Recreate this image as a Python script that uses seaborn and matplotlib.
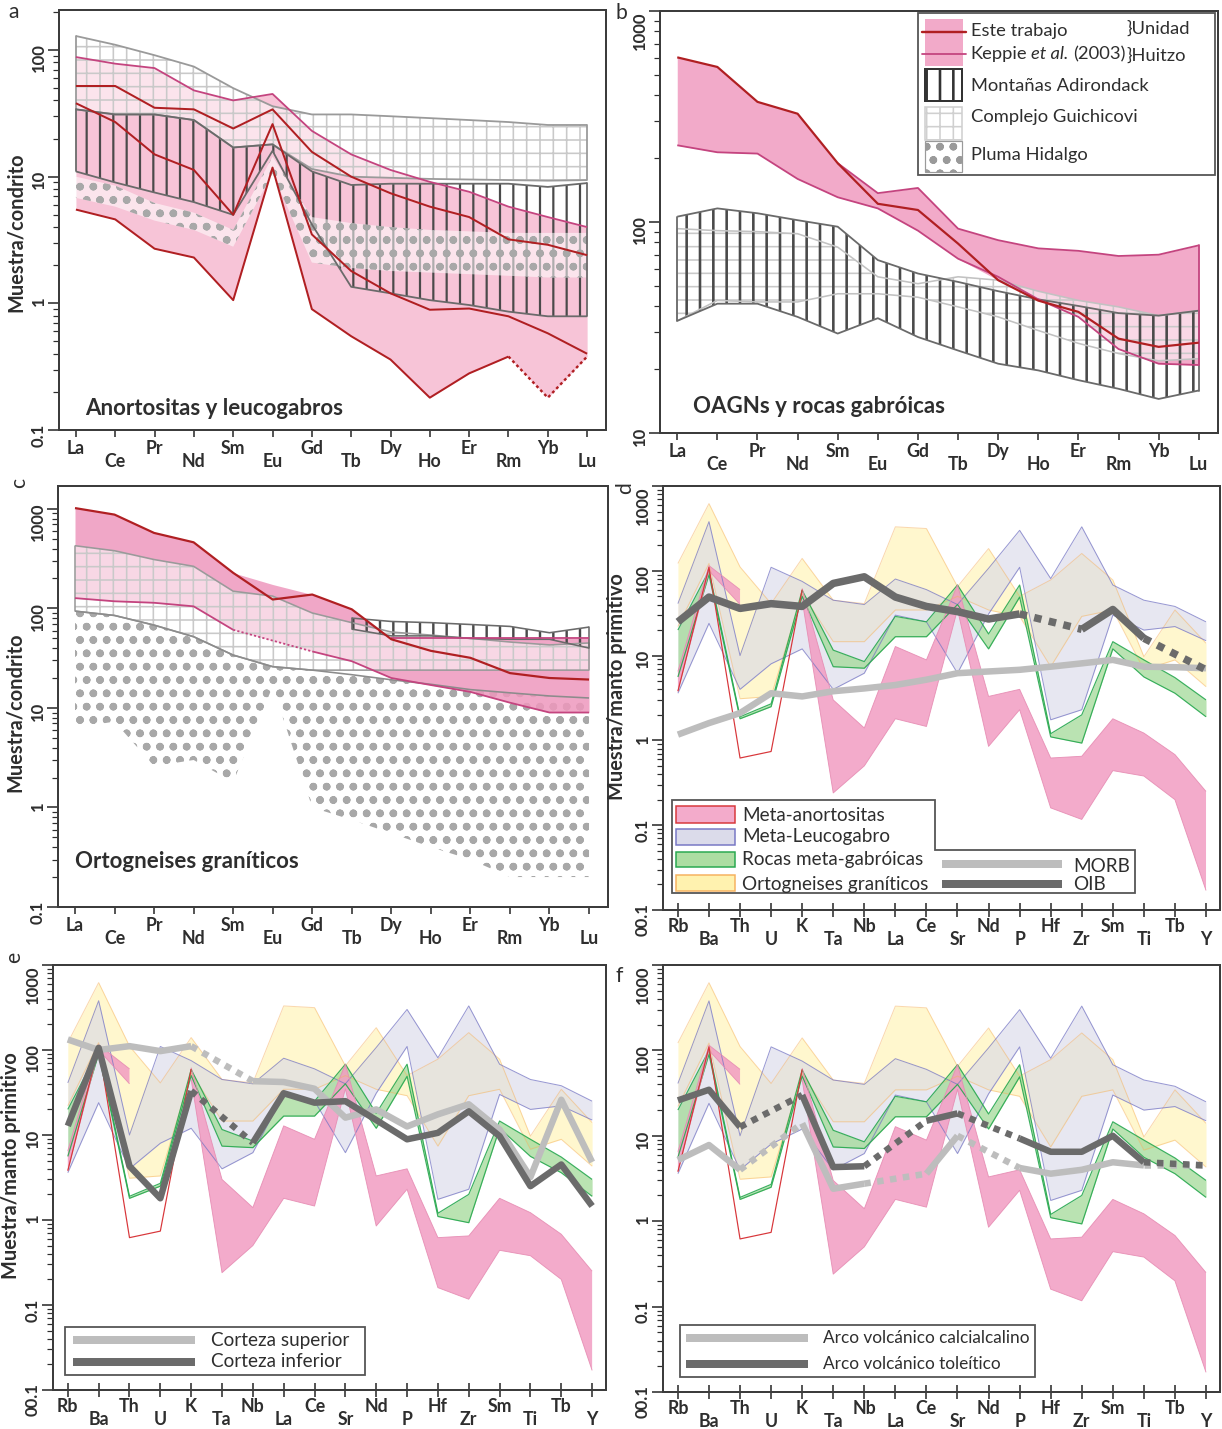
import numpy as np
import matplotlib
matplotlib.use("Agg")
import matplotlib.pyplot as plt
import seaborn as sns
from matplotlib.patches import Rectangle, Polygon
from matplotlib.ticker import LogLocator, NullFormatter

nan = np.nan

# ---------------- element sequences ----------------
ree = ["La", "Ce", "Pr", "Nd", "Sm", "Eu", "Gd", "Tb", "Dy", "Ho", "Er", "Rm", "Yb", "Lu"]
spider = ["Rb", "Ba", "Th", "U", "K", "Ta", "Nb", "La", "Ce", "Sr", "Nd", "P",
          "Hf", "Zr", "Sm", "Ti", "Tb", "Y"]

# ---------------- (a) anortositas y leucogabros ----------------
a_huitzo_1 = [52, 52, 35, 34, 24, 34, 15.7, 10, 7.4, 5.8, 4.8, 3.2, 2.9, 2.4]
a_huitzo_2 = [38, 27, 15, 11.3, 5.0, 26, 3.5, 1.8, 1.2, 0.89, 0.91, 0.79, 0.58, 0.40]
a_huitzo_3 = [5.5, 4.6, 2.7, 2.3, 1.06, 11.8, 0.9, 0.55, 0.36, 0.18, 0.28, 0.38, 0.18, 0.38]
a_keppie = [88, 78, 72, 48, 40, 45, 23, 15, 11.3, 9.1, 7.6, 5.8, 4.8, 4.0]
a_adk_top = [34, 31, 31, 28, 17, 18, 11, 8.6, 8.8, 8.8, 8.8, 8.8, 8.3, 8.9]
a_adk_bot = [11, 9.0, 7.5, 6.3, 5.0, 16, 4.2, 1.35, 1.2, 1.06, 0.97, 0.86, 0.79, 0.79]
a_gui_top = [129, 110, 91, 74, 50, 36, 31, 31, 30, 29, 28, 27, 25.6, 25.6]
a_gui_bot = [34, 31, 31, 28, 17, 18, 11.5, 10, 9.8, 9.6, 9.5, 9.4, 9.3, 9.4]
a_plh_top = [10, 8.5, 6.2, 5.2, 3.8, 14.4, 4.8, 4.3, 4.0, 3.8, 3.7, 3.6, 3.6, 3.6]
a_plh_bot = [6.8, 5.8, 4.5, 3.8, 2.8, 10.6, 2.1, 1.9, 1.8, 1.75, 1.7, 1.65, 1.6, 1.6]

# ---------------- (b) OAGNs y rocas gabroicas ----------------
b_huitzo = [603, 543, 371, 326, 190, 122, 114, 79, 53, 42.4, 37.5, 28, 25.6, 26.8]
b_kep_up = [nan, nan, nan, nan, 190, 137, 145, 93, 82, 75, 73, 69, 70, 77.5]
b_kep_low = [231, 214, 211, 160, 131, 116, 91, 67, 55, 43, 35.5, 25, 21.3, 21]
b_adk_top = [106, 116, 110, 102, 95, 66, 57, 52, 47, 43, 40, 37, 36, 38]
b_adk_bot = [34, 41, 41, 35.5, 29.6, 35, 28.5, 24.6, 21.3, 19.8, 17.8, 16.2, 14.5, 15.9]
b_gui_top = [93, 91, 90, 88, 76, 55, 51, 55, 53, 47, 42.5, 39.6, 36, 38]
b_gui_bot = [34, 42.5, 41.8, 41.8, 45.7, 45.7, 44, 39.6, 35.5, 30.6, 26.6, 23.8, 22, 22.5]

# ---------------- (c) ortogneises graniticos ----------------
c_huitzo = [1020, 877, 574, 462, 228, 123, 138, 98, 49, 37.5, 31.9, 22.4, 20, 19.3]
c_kep_up = [nan, nan, nan, nan, nan, 174, nan, nan, 50, 50, 50, 50, 50, 50]
c_kep_low = [127, 118, 114, 105, 61, nan, 37, 29.5, 20, 17, 14.5, 11.3, 9.0, 9.0]
c_gui_top = [427, 380, 310, 265, 149, 133, 90, 72, 58, 54, 50, 46, 43, 45]
c_gui_bot = [94, 85, 68, 52, 34, 26, 24, 24, 24, 24, 24, 24, 24, 24]
c_plh_top = [94, 85, 68, 52, 34, 26, 24, 21.6, 19.2, 17.3, 15.3, 14.2, 13.2, 12.6]
c_plh_bot = [6.3, 7.3, 2.6, 3.0, 1.8, 16.5, 1.0, 0.75, 0.55, 0.4, 0.3, 0.2, 0.2, 0.2]
c_adk_top = [nan, nan, nan, nan, nan, nan, nan, 80, 74, 72, 69, 66, 57, 65]
c_adk_bot = [nan, nan, nan, nan, nan, nan, nan, 62, 53, 53, 50, 49, 49, 40]

# ---------------- (d-f) fields normalised to primitive mantle ----------------
orto_hi = [122, 620, 111, 41, 140, 45, 41, 330, 315, 65, 183, 50, 78, 160, 78, 9.7, 34.5, 14]
orto_lo = [22, 122, 3.1, 3.3, 54, 14.6, 14.6, 34.5, 34.5, 50, 34.5, 29, 7.4, 29, 34.5, 6.8, 8.9, 4.3]
leuco_hi = [41, 380, 10, 110, 75, 45, 40, 80, 60, 40, 107, 300, 81, 330, 68, 45, 38, 25]
leuco_lo = [3.6, 24, 4.0, 8, 12, 4.0, 6.2, 30, 25, 6.2, 31, 110, 1.75, 2.3, 30, 20, 22, 15]
gabro_hi = [20, 100, 1.9, 2.7, 59, 11.6, 8.5, 29, 25, 68, 18, 68, 1.2, 2.0, 14.6, 8.9, 5.5, 3.0]
gabro_lo = [5.6, 90, 1.8, 2.5, 50, 7.4, 7.1, 16.7, 16.7, 40, 12, 49, 1.1, 0.93, 12, 5.6, 3.6, 1.9]
anort_hi = [6.5, 115, 60, nan, 62, 3.0, 1.4, 12.8, 8.9, 68, 3.3, 4.0, 0.62, 0.65, 1.8, 1.22, 0.68, 0.25]
anort_lo = [3.8, 100, 40, nan, 45, 0.24, 0.5, 1.8, 1.46, 35, 0.85, 2.3, 0.16, 0.117, 0.44, 0.38, 0.2, 0.017]
anort_edge = [3.8, 110, 0.62, 0.74, 60, nan, nan, nan, nan, nan, nan, nan, nan, nan, nan, nan, nan, nan]

morb = [1.17, 1.6, 2.1, 3.6, 3.3, 3.8, 4.1, 4.5, 5.2, 6.2, 6.5, 6.8, 7.4, 8.1, 8.9, 7.4, 7.3, 7.1]
oib = [25, 49, 36, 41, 38, 71, 85, 49, 38, 33, 27, 31, nan, 20.4, 35, 16, nan, 6.8]
corteza_sup = [133, 100, 111, 97, 111, nan, 43, 42, 35, 16, 20, 12.6, 17.5, 23, 11.6, 3.2, 26, 4.8]
corteza_inf = [12.8, 106, 4.3, 1.8, 33, nan, 8.1, 31, 24, 25, 15, 8.9, 10.6, 19, 9.7, 2.5, 4.5, 1.46]
arco_calc = [5.2, 7.8, 4.0, nan, 14, 2.4, 2.75, nan, 3.6, 10, nan, 4.2, 3.6, 4.0, 4.9, 4.5, nan, 4.5]
arco_tol = [26, 34.6, 12.7, nan, 30, 4.3, 4.4, nan, 15, 18.3, nan, 9.3, 6.5, 6.5, 10, 4.9, nan, 4.5]

# ---------------- styling ----------------
DPI = 80
W, H = 1222, 1429


def px(v):
    """pixels -> points at the output resolution"""
    return v * 72.0 / DPI


RED = "#b01f22"
MAGENTA = "#c4447f"
PINK_A = "#f7c4d7"
PINK_B = "#f2aac9"
PINK_C = "#ee98bd"
ADK_H = "#4a4a4a"
ADK_EDGE = "#6a6a6a"
GUI_H = "#c9c9c9"
GUI_EDGE = "#9a9a9a"
PLH_H = "#a8a8a8"
YEL_FACE, YEL_EDGE = "#fff1a6", "#f6b15e"
LAV_FACE, LAV_EDGE = "#d8d8e8", "#7676c4"
GRN_FACE, GRN_EDGE = "#a3da98", "#27a84f"
PNK_FACE, PNK_EDGE = "#f29cc2", "#e68cb3"
ANR_EDGE = "#d8363a"
LIGHT = "#bdbdbd"
DARK = "#6b6b6b"
TXT = "#2e2e2e"
DOT_GAP = (0, (1.0, 1.0))

sns.set_theme(style="ticks")
plt.rcParams["font.family"] = ["Lato", "DejaVu Sans"]
plt.rcParams["axes.edgecolor"] = "#3c3c3c"
plt.rcParams["axes.linewidth"] = px(2)
plt.rcParams["hatch.linewidth"] = px(2.2)

fig = plt.figure(figsize=(W / DPI, H / DPI), dpi=DPI)


def add_axes(l, t, r, b):
    return fig.add_axes([l / W, 1 - b / H, (r - l) / W, (b - t) / H])


ax_a = add_axes(59, 10, 606, 430)
ax_b = add_axes(660, 11, 1218, 433)
ax_c = add_axes(58, 486, 608, 907)
ax_d = add_axes(663, 486, 1220, 910)
ax_e = add_axes(53, 965, 606, 1390)
ax_f = add_axes(663, 965, 1220, 1392)

TICKLAB = {0.01: "00.1", 0.1: "0.1", 1: "1", 10: "10", 100: "100", 1000: "1000"}


def style_axes(ax, names, ylim, yticks, cross):
    n = len(names)
    ax.set_yscale("log")
    ax.set_ylim(*ylim)
    if n == 14:
        ax.set_xlim(-0.43, n - 1 + 0.48)
    else:
        ax.set_xlim(-0.48, n - 1 + 0.45)
    ax.set_yticks(yticks, labels=[TICKLAB[v] for v in yticks])
    ax.yaxis.set_minor_locator(LogLocator(base=10, subs=np.arange(2, 10)))
    ax.yaxis.set_minor_formatter(NullFormatter())
    ev = list(range(0, n, 2))
    od = list(range(1, n, 2))
    ax.set_xticks(ev, labels=[names[i] for i in ev])
    ax.set_xticks(od, labels=[names[i] for i in od], minor=True)
    ax.tick_params(axis="y", which="major", length=px(11), width=px(1.6), pad=px(1),
                   labelsize=15, labelrotation=90, colors=TXT)
    ax.tick_params(axis="y", which="minor", length=px(6), width=px(1.2), colors=TXT)
    if cross:
        ax.tick_params(axis="x", which="both", direction="inout", length=px(14),
                       width=px(1.6), labelsize=16, colors=TXT)
        ax.tick_params(axis="x", which="major", pad=px(1))
        ax.tick_params(axis="x", which="minor", pad=px(14))
    else:
        ax.tick_params(axis="x", which="both", direction="out", length=px(7),
                       width=px(1.6), labelsize=16, colors=TXT)
        ax.tick_params(axis="x", which="major", pad=px(3))
        ax.tick_params(axis="x", which="minor", pad=px(16))
    for lbl in ax.get_xticklabels(which="both") + ax.get_yticklabels():
        lbl.set_fontweight("bold")
    top = ax.get_yticklabels()[-1]
    if max(yticks) >= ylim[1] * 0.999:
        top.set_va("top")


def band(ax, x, lo, hi, face, alpha=1.0, z=1):
    return ax.fill_between(x, lo, hi, color=face, alpha=alpha, linewidth=0, zorder=z)


def hatched(ax, x, lo, hi, hatch, hcolor, hlw, face="none", z=2):
    with plt.rc_context({"hatch.linewidth": hlw}):
        coll = ax.fill_between(x, lo, hi, facecolor=face, edgecolor=hcolor, hatch=hatch,
                               linewidth=0, zorder=z)
    if hasattr(coll, "set_hatch_linewidth"):
        coll.set_hatch_linewidth(hlw)
    return coll


def draw_line(ax, x, y, color, lw, gap=None, z=6, alpha=1.0):
    x = np.asarray(x, dtype=float)
    y = np.asarray(y, dtype=float)
    idx = np.flatnonzero(~np.isnan(y))
    if idx.size == 0:
        return
    runs = np.split(idx, np.flatnonzero(np.diff(idx) > 1) + 1)
    for r in runs:
        if r.size > 1:
            sns.lineplot(x=x[r], y=y[r], ax=ax, color=color, linewidth=lw, sort=False,
                         estimator=None, legend=False, zorder=z, alpha=alpha,
                         solid_joinstyle="round", solid_capstyle="butt")
    if gap is not None:
        for r1, r2 in zip(runs[:-1], runs[1:]):
            j = [r1[-1], r2[0]]
            ax.plot(x[j], y[j], color=color, linewidth=lw, linestyle=gap,
                    dash_capstyle="butt", zorder=z, alpha=alpha)


def outline(ax, x, lo, hi, color, lw, z=5):
    lo = np.asarray(lo, float)
    hi = np.asarray(hi, float)
    draw_line(ax, x, hi, color, lw, z=z)
    draw_line(ax, x, lo, color, lw, z=z)
    ok = np.flatnonzero(~np.isnan(lo))
    for j in (ok[0], ok[-1]):
        ax.plot([x[j], x[j]], [lo[j], hi[j]], color=color, linewidth=lw, zorder=z)


x14 = np.arange(len(ree))
x18 = np.arange(len(spider))

# ======================= (a) =======================
ax = ax_a
style_axes(ax, ree, (0.1, 207), [0.1, 1, 10, 100], cross=False)
band(ax, x14, a_huitzo_3, a_keppie, PINK_A, z=1)
hatched(ax, x14, a_gui_bot, a_gui_top, "+", GUI_H, px(1.6), face=(1, 1, 1, 0.55), z=2)
hatched(ax, x14, a_adk_bot, a_adk_top, "|", ADK_H, px(2.2), z=3)
hatched(ax, x14, a_plh_bot, a_plh_top, "o.", PLH_H, px(2.4), face=(1, 1, 1, 0.55), z=4)
outline(ax, x14, a_gui_bot, a_gui_top, GUI_EDGE, px(1.8))
outline(ax, x14, a_adk_bot, a_adk_top, ADK_EDGE, px(1.8))
draw_line(ax, x14, a_keppie, MAGENTA, px(1.8), z=7)
draw_line(ax, x14, a_huitzo_1, RED, px(2), z=7)
draw_line(ax, x14, a_huitzo_2, RED, px(2), z=7)
draw_line(ax, x14[:12], a_huitzo_3[:12], RED, px(2), z=7)
ax.plot(x14[11:], a_huitzo_3[11:], color=RED, linewidth=px(2.4), linestyle=(0, (1.2, 1.2)), zorder=7)
ax.set_ylabel("Muestra/condrito", fontsize=18, fontweight="bold", color=TXT)
ax.yaxis.set_label_coords(-0.060, 0.47)
ax.text(0.0475, 0.036, "Anortositas y leucogabros", transform=ax.transAxes, fontsize=20,
        fontweight="bold", color=TXT, va="baseline")

# ======================= (b) =======================
ax = ax_b
style_axes(ax, ree, (10, 1000), [10, 100, 1000], cross=False)
b_top = np.fmax(np.array(b_huitzo, float), np.array(b_kep_up, float))
b_bot = np.fmin(np.array(b_huitzo, float), np.array(b_kep_low, float))
band(ax, x14, b_bot, b_top, PINK_B, z=1)
hatched(ax, x14, b_gui_bot, b_gui_top, "+", GUI_H, px(1.6), face=(1, 1, 1, 0.55), z=2)
hatched(ax, x14, b_adk_bot, b_adk_top, "|", ADK_H, px(2.6), z=3)
outline(ax, x14, b_gui_bot, b_gui_top, "#c2c2c2", px(1.6))
outline(ax, x14, b_adk_bot, b_adk_top, ADK_EDGE, px(1.8))
draw_line(ax, x14, b_kep_up, MAGENTA, px(1.8), z=7)
draw_line(ax, x14, b_kep_low, MAGENTA, px(1.8), z=7)
ax.plot([x14[-1], x14[-1]], [b_kep_low[-1], b_kep_up[-1]], color=MAGENTA, linewidth=px(1.8), zorder=7)
draw_line(ax, x14, b_huitzo, RED, px(2.2), z=8)
ax.text(0.059, 0.047, "OAGNs y rocas gabróicas", transform=ax.transAxes, fontsize=20,
        fontweight="bold", color=TXT, va="baseline")

# legend of (b)
T = ax.transAxes
ax.add_patch(Rectangle((0.462, 0.611), 0.533, 0.384, transform=T, facecolor="white",
                       edgecolor="#555555", linewidth=px(1.8), zorder=20))
ax.add_patch(Rectangle((0.475, 0.870), 0.068, 0.111, transform=T, facecolor=PINK_B,
                       edgecolor="none", zorder=21))
ax.plot([0.470, 0.548], [0.950, 0.950], transform=T, color=RED, linewidth=px(2.4), zorder=22)
ax.plot([0.470, 0.548], [0.898, 0.898], transform=T, color=MAGENTA, linewidth=px(1.8), zorder=22)
with plt.rc_context({"hatch.linewidth": px(2.6)}):
    sw = Rectangle((0.475, 0.787), 0.066, 0.076, transform=T, facecolor="white",
                   edgecolor="#333333", hatch="|", linewidth=px(2), zorder=21)
ax.add_patch(sw)
with plt.rc_context({"hatch.linewidth": px(1.6)}):
    sw = Rectangle((0.475, 0.694), 0.066, 0.079, transform=T, facecolor="white",
                   edgecolor="#d0d0d0", hatch="+", linewidth=px(1.6), zorder=21)
ax.add_patch(sw)
with plt.rc_context({"hatch.linewidth": px(2.4)}):
    sw = Rectangle((0.475, 0.618), 0.066, 0.074, transform=T, facecolor="white",
                   edgecolor="#9a9a9a", hatch="o.", linewidth=px(1.2), zorder=21)
ax.add_patch(sw)
LEG = dict(transform=T, fontsize=16.5, va="center", ha="left", color=TXT, zorder=23)
ax.text(0.557, 0.953, "Este trabajo", **LEG)
renderer = fig.canvas.get_renderer()
inv = T.inverted()
t1 = ax.text(0.557, 0.898, "Keppie", **LEG)
bb = t1.get_window_extent(renderer)
u = inv.transform((bb.x1 + 4, bb.y0))[0]
t2 = ax.text(u, 0.898, "et al.", style="italic", **LEG)
bb = t2.get_window_extent(renderer)
u = inv.transform((bb.x1 + 4, bb.y0))[0]
t3 = ax.text(u, 0.898, "(2003)", **LEG)
bb = t3.get_window_extent(renderer)
u_br = inv.transform((bb.x1 + 1, bb.y0))[0]
ax.text(u_br, 0.958, "}Unidad", **LEG)
ax.text(u_br, 0.893, "}Huitzo", **LEG)
ax.text(0.557, 0.822, "Montañas Adirondack", **LEG)
ax.text(0.557, 0.749, "Complejo Guichicovi", **LEG)
ax.text(0.557, 0.659, "Pluma Hidalgo", **LEG)

# ======================= (c) =======================
ax = ax_c
style_axes(ax, ree, (0.1, 1700), [0.1, 1, 10, 100, 1000], cross=False)
hatched(ax, x14, c_plh_bot, c_plh_top, "o.", PLH_H, px(2.4), face=(1, 1, 1, 1), z=1)
c_top = np.fmax(np.array(c_huitzo, float), np.array(c_kep_up, float))
c_bot = np.fmin(np.array(c_huitzo, float), np.array(c_kep_low, float))
c_bot = np.where(np.isnan(c_bot), c_huitzo, c_bot)
c_bot[5] = np.sqrt(c_kep_low[4] * c_kep_low[6])
band(ax, x14, c_bot, c_top, PINK_C, alpha=0.85, z=2)
hatched(ax, x14, c_gui_bot, c_gui_top, "+", GUI_H, px(1.6), face=(1, 1, 1, 0.55), z=3)
hatched(ax, x14, c_adk_bot, c_adk_top, "|", ADK_H, px(2.4), z=4)
outline(ax, x14, c_gui_bot, c_gui_top, GUI_EDGE, px(1.6))
outline(ax, x14, c_adk_bot, c_adk_top, ADK_EDGE, px(1.6))
draw_line(ax, x14, c_plh_top, "#8c8c8c", px(1.6), z=5)
draw_line(ax, x14, c_kep_up, MAGENTA, px(1.8), z=7)
draw_line(ax, x14, c_kep_low, MAGENTA, px(1.8), gap=(0, (1.2, 1.2)), z=7)
draw_line(ax, x14, c_huitzo, RED, px(2.2), z=8)
ax.set_ylabel("Muestra/condrito", fontsize=18, fontweight="bold", color=TXT)
ax.yaxis.set_label_coords(-0.060, 0.463)
ax.text(0.031, 0.093, "Ortogneises graníticos", transform=ax.transAxes, fontsize=20,
        fontweight="bold", color=TXT, va="baseline")


# ======================= (d)-(f) shared fields =======================
def spider_fields(ax):
    band(ax, x18, orto_lo, orto_hi, YEL_FACE, alpha=0.55, z=1)
    band(ax, x18, leuco_lo, leuco_hi, LAV_FACE, alpha=0.6, z=2)
    band(ax, x18, gabro_lo, gabro_hi, GRN_FACE, alpha=0.75, z=3)
    band(ax, x18, anort_lo, anort_hi, PNK_FACE, alpha=0.85, z=4)
    for lo, hi, c, lw, a in [(orto_lo, orto_hi, YEL_EDGE, 1.0, 0.5),
                             (leuco_lo, leuco_hi, LAV_EDGE, 1.0, 0.75),
                             (gabro_lo, gabro_hi, GRN_EDGE, 1.2, 0.9),
                             (anort_lo, anort_hi, PNK_EDGE, 0.9, 0.9)]:
        draw_line(ax, x18, lo, c, px(lw), z=5, alpha=a)
        draw_line(ax, x18, hi, c, px(lw), z=5, alpha=a)
    draw_line(ax, x18, anort_edge, ANR_EDGE, px(1.2), z=5)


def line_legend(ax, box, y1, y2, labels, xs, xt, size):
    T = ax.transAxes
    x0, x1, yb, yt = box
    ax.add_patch(Rectangle((x0, yb), x1 - x0, yt - yb, transform=T, facecolor="white",
                           edgecolor="#555555", linewidth=px(1.8), zorder=20))
    for yy, col, lab in [(y1, LIGHT, labels[0]), (y2, DARK, labels[1])]:
        ax.plot(xs, [yy, yy], transform=T, color=col, linewidth=px(8), zorder=21,
                solid_capstyle="butt")
        ax.text(xt, yy, lab, transform=T, fontsize=size, va="center", ha="left",
                color=TXT, zorder=22)


# ======================= (d) =======================
ax = ax_d
style_axes(ax, spider, (0.01, 1000), [0.01, 0.1, 1, 10, 100, 1000], cross=True)
spider_fields(ax)
draw_line(ax, x18, morb, LIGHT, px(6.5), gap=DOT_GAP, z=8)
draw_line(ax, x18, oib, DARK, px(7.5), gap=DOT_GAP, z=9)
ax.set_ylabel("Muestra/manto primitivo", fontsize=18, fontweight="bold", color=TXT)
ax.yaxis.set_label_coords(-0.064, 0.528)
T = ax.transAxes
ax.add_patch(Polygon([(0.0162, 0.2594), (0.4883, 0.2594), (0.4883, 0.1415), (0.8474, 0.1415),
                      (0.8474, 0.0401), (0.0162, 0.0401)], closed=True, transform=T,
                     facecolor="white", edgecolor="#555555", linewidth=px(1.8), zorder=20))
for (yb, yt, yc), face, edge, al, lab in [
        ((0.205, 0.245, 0.224), PNK_FACE, ANR_EDGE, 0.85, "Meta-anortositas"),
        ((0.153, 0.191, 0.1745), LAV_FACE, LAV_EDGE, 0.9, "Meta-Leucogabro"),
        ((0.101, 0.137, 0.118), GRN_FACE, GRN_EDGE, 0.9, "Rocas meta-gabróicas"),
        ((0.0448, 0.0825, 0.0613), YEL_FACE, YEL_EDGE, 0.9, "Ortogneises graníticos")]:
    ax.add_patch(Rectangle((0.0233, yb), 0.106, yt - yb, transform=T, facecolor=face,
                           alpha=al, edgecolor="none", zorder=21))
    ax.add_patch(Rectangle((0.0233, yb), 0.106, yt - yb, transform=T, facecolor="none",
                           edgecolor=edge, linewidth=px(1.5), zorder=22))
    ax.text(0.1418, yc, lab, transform=T, fontsize=17, va="center", ha="left", color=TXT,
            zorder=22)
for yy, col, lab, yl in [(0.1085, LIGHT, "MORB", 0.102), (0.0613, DARK, "OIB", 0.060)]:
    ax.plot([0.5009, 0.7163], [yy, yy], transform=T, color=col, linewidth=px(8), zorder=21,
            solid_capstyle="butt")
    ax.text(0.736, yl, lab, transform=T, fontsize=17, va="center", ha="left", color=TXT,
            zorder=22)

# ======================= (e) =======================
ax = ax_e
style_axes(ax, spider, (0.01, 1000), [0.01, 0.1, 1, 10, 100, 1000], cross=True)
spider_fields(ax)
draw_line(ax, x18, corteza_sup, LIGHT, px(6.5), gap=DOT_GAP, z=8)
draw_line(ax, x18, corteza_inf, DARK, px(6.5), gap=DOT_GAP, z=9)
ax.set_ylabel("Muestra/manto primitivo", fontsize=18, fontweight="bold", color=TXT)
ax.yaxis.set_label_coords(-0.058, 0.527)
line_legend(ax, (0.0217, 0.5642, 0.0353, 0.148), 0.1176, 0.0659,
            ["Corteza superior", "Corteza inferior"], [0.0362, 0.2568], 0.2857, 17)

# ======================= (f) =======================
ax = ax_f
style_axes(ax, spider, (0.01, 1000), [0.01, 0.1, 1, 10, 100, 1000], cross=True)
spider_fields(ax)
draw_line(ax, x18, arco_calc, LIGHT, px(6.5), gap=DOT_GAP, z=8)
draw_line(ax, x18, arco_tol, DARK, px(6.5), gap=DOT_GAP, z=9)
line_legend(ax, (0.0305, 0.6679, 0.0351, 0.1569), 0.1265, 0.0656,
            ["Arco volcánico calcialcalino", "Arco volcánico toleítico"],
            [0.0413, 0.2603], 0.2873, 15.5)

# panel letters
for s, x, y, rot in [("a", 8, 2, 0), ("b", 615, 3, 0), ("c", 9, 478, 90),
                     ("d", 615, 482, 90), ("e", 4, 952, 90), ("f", 616, 966, 0)]:
    fig.text(x / W, 1 - y / H, s, fontsize=19, color=TXT, ha="left", va="top", rotation=rot)

fig.savefig("out.png", dpi=DPI, facecolor="white")
